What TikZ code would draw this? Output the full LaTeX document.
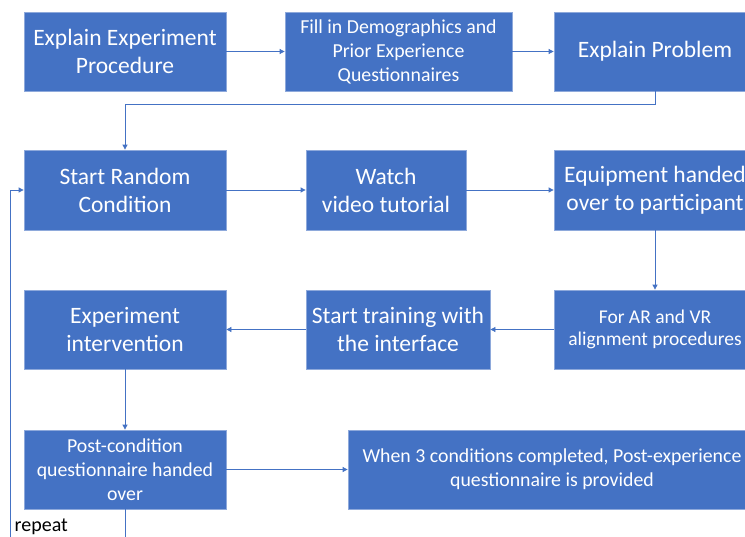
\documentclass[tikz,border=0pt]{standalone}
\usepackage{fontspec}
\setmainfont{Carlito}
\usetikzlibrary{arrows.meta}
\definecolor{boxblue}{HTML}{4472C4}
\definecolor{boxedge}{HTML}{8EA9DB}
\tikzset{
  box/.style={rectangle, fill=boxblue, draw=boxedge, line width=0.8pt, text=white, align=center, inner sep=2pt},
  big/.style={font=\fontsize{23.5}{28}\selectfont},
  small/.style={font=\fontsize{19.8}{24}\selectfont},
  tiny/.style={font=\fontsize{19.5}{21.5}\selectfont},
  arr/.style={draw=boxblue, line width=0.8pt, -{Triangle[length=5pt,width=5pt]}},
}
\begin{document}
\begin{tikzpicture}[x=1pt,y=-1pt]
\useasboundingbox (0,0) rectangle (745,536);
\clip (0,0) rectangle (745,536);
\fill[white] (0,0) rectangle (745,536);
% row 1
\node[box,big,minimum width=202pt,minimum height=79pt] (A) at (125,51.5) {Explain Experiment\\Procedure};
\node[box,small,minimum width=227pt,minimum height=79pt] (B) at (398.5,51.5) {Fill in Demographics and\\Prior Experience\\Questionnaires};
\node[box,big,minimum width=202pt,minimum height=79pt] (C) at (655,51.5) {Explain Problem};
% row 2
\node[box,big,minimum width=202pt,minimum height=80pt] (D) at (125,190) {Start Random\\Condition};
\node[box,big,minimum width=160pt,minimum height=80pt] (E) at (386,190) {Watch\\video tutorial};
\node[box,big,minimum width=202pt,minimum height=80pt] (F) at (655,190) {Equipment handed\\over to participant};
% row 3
\node[box,tiny,minimum width=202pt,minimum height=79pt] (G) at (655,329.5) {For AR and VR\\alignment procedures};
\node[box,big,minimum width=184pt,minimum height=79pt] (H) at (398,329.5) {Start training with\\the interface};
\node[box,big,minimum width=202pt,minimum height=79pt] (I) at (125,329.5) {Experiment\\intervention};
% row 4
\node[box,small,minimum width=202pt,minimum height=79pt] (J) at (125,469.5) {Post-condition\\questionnaire handed\\over};
\node[box,small,minimum width=408pt,minimum height=79pt] (K) at (552,469.5) {When 3 conditions completed, Post-experience\\questionnaire is provided};
% label
\node[font=\fontsize{20}{22}\selectfont, text=black, anchor=west, inner sep=0pt] (rep) at (14.5,527) {repeat};
% connectors
\draw[arr] (A) -- (B);
\draw[arr] (B) -- (C);
\coordinate (turn) at (655,104.5);
\draw[arr] (C.south) -- (turn) -| (D.north);
\draw[arr] (D) -- (E);
\draw[arr] (E) -- (F);
\draw[arr] (F.south) -- (G.north);
\draw[arr] (G) -- (H);
\draw[arr] (H) -- (I);
\draw[arr] (I.south) -- (J.north);
\draw[arr] (J) -- (K);
\coordinate (loopb) at (10,560);
\draw[arr] (J.south) |- (loopb) |- (D.west);
\end{tikzpicture}
\end{document}
